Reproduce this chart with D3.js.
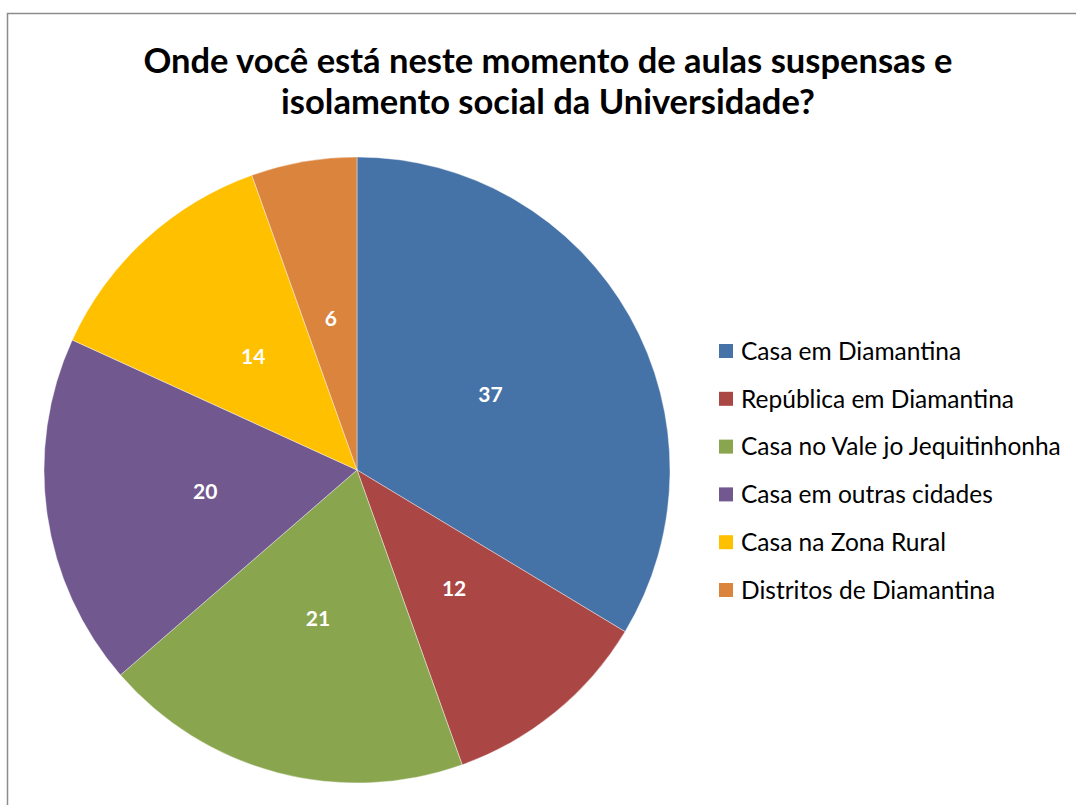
<!DOCTYPE html>
<html lang="pt">
<head>
<meta charset="utf-8">
<title>Onde você está</title>
<script src="https://d3js.org/d3.v7.min.js"></script>
<style>
  body { margin: 0; background: #fff; }
  text { font-family: Lato, "Open Sans", sans-serif; }
</style>
</head>
<body>
<script>
// data
var categories = ["Casa em Diamantina", "República em Diamantina", "Casa no Vale jo Jequitinhonha",
                  "Casa em outras cidades", "Casa na Zona Rural", "Distritos de Diamantina"];
var values = [37, 12, 21, 20, 14, 6];
var colors = ["#4572A7", "#AA4643", "#89A54E", "#71588F", "#FFC000", "#DB843D"];
var titleLines = ["Onde você está neste momento de aulas suspensas e",
                  "isolamento social da Universidade?"];

var width = 1076, height = 805;
var svg = d3.select("body").append("svg")
    .attr("width", width)
    .attr("height", height);

// chart border
svg.append("rect")
    .attr("x", 7.5).attr("y", 13.5)
    .attr("width", 1100).attr("height", 900)
    .attr("fill", "#fff")
    .attr("stroke", "#8c8c8c")
    .attr("stroke-width", 1.5);

svg.append("g").selectAll("text")
    .data(titleLines)
    .enter().append("text")
    .attr("x", 548)
    .attr("y", function(d, i) { return 73 + i * 41; })
    .attr("text-anchor", "middle")
    .attr("font-weight", "bold")
    .attr("font-size", 34.5)
    .attr("fill", "#000")
    .text(function(d) { return d; });

var radius = 313;
var color = d3.scaleOrdinal().domain(categories).range(colors);

var pie = d3.pie().sort(null).value(function(d) { return d.v; });
var arc = d3.arc().innerRadius(0).outerRadius(radius);
var labelArc = d3.arc().innerRadius(radius * 0.49).outerRadius(radius * 0.49);

var data = categories.map(function(c, i) { return { name: c, v: values[i] }; });

var g = svg.append("g").attr("transform", "translate(357,470)");

var slices = g.selectAll("g.slice")
    .data(pie(data))
    .enter().append("g").attr("class", "slice");

slices.append("path")
    .attr("d", arc)
    .attr("fill", function(d) { return color(d.data.name); })
    .attr("stroke", "#fff")
    .attr("stroke-width", 0.4);

slices.append("text")
    .attr("transform", function(d) { return "translate(" + labelArc.centroid(d) + ")"; })
    .attr("text-anchor", "middle")
    .attr("dy", "0.35em")
    .attr("font-weight", "bold")
    .attr("font-size", 21)
    .attr("fill", "#fff")
    .text(function(d) { return d.data.v; });

// legend
var legend = svg.append("g").attr("transform", "translate(719,351)");
var row = legend.selectAll("g")
    .data(categories)
    .enter().append("g")
    .attr("transform", function(d, i) { return "translate(0," + (i * 47.8) + ")"; });

row.append("rect")
    .attr("x", 0).attr("y", -7)
    .attr("width", 14).attr("height", 14)
    .attr("fill", function(d) { return color(d); });

row.append("text")
    .attr("x", 22)
    .attr("dy", "0.36em")
    .attr("font-size", 24.5)
    .attr("fill", "#000")
    .text(function(d) { return d; });
</script>
</body>
</html>
